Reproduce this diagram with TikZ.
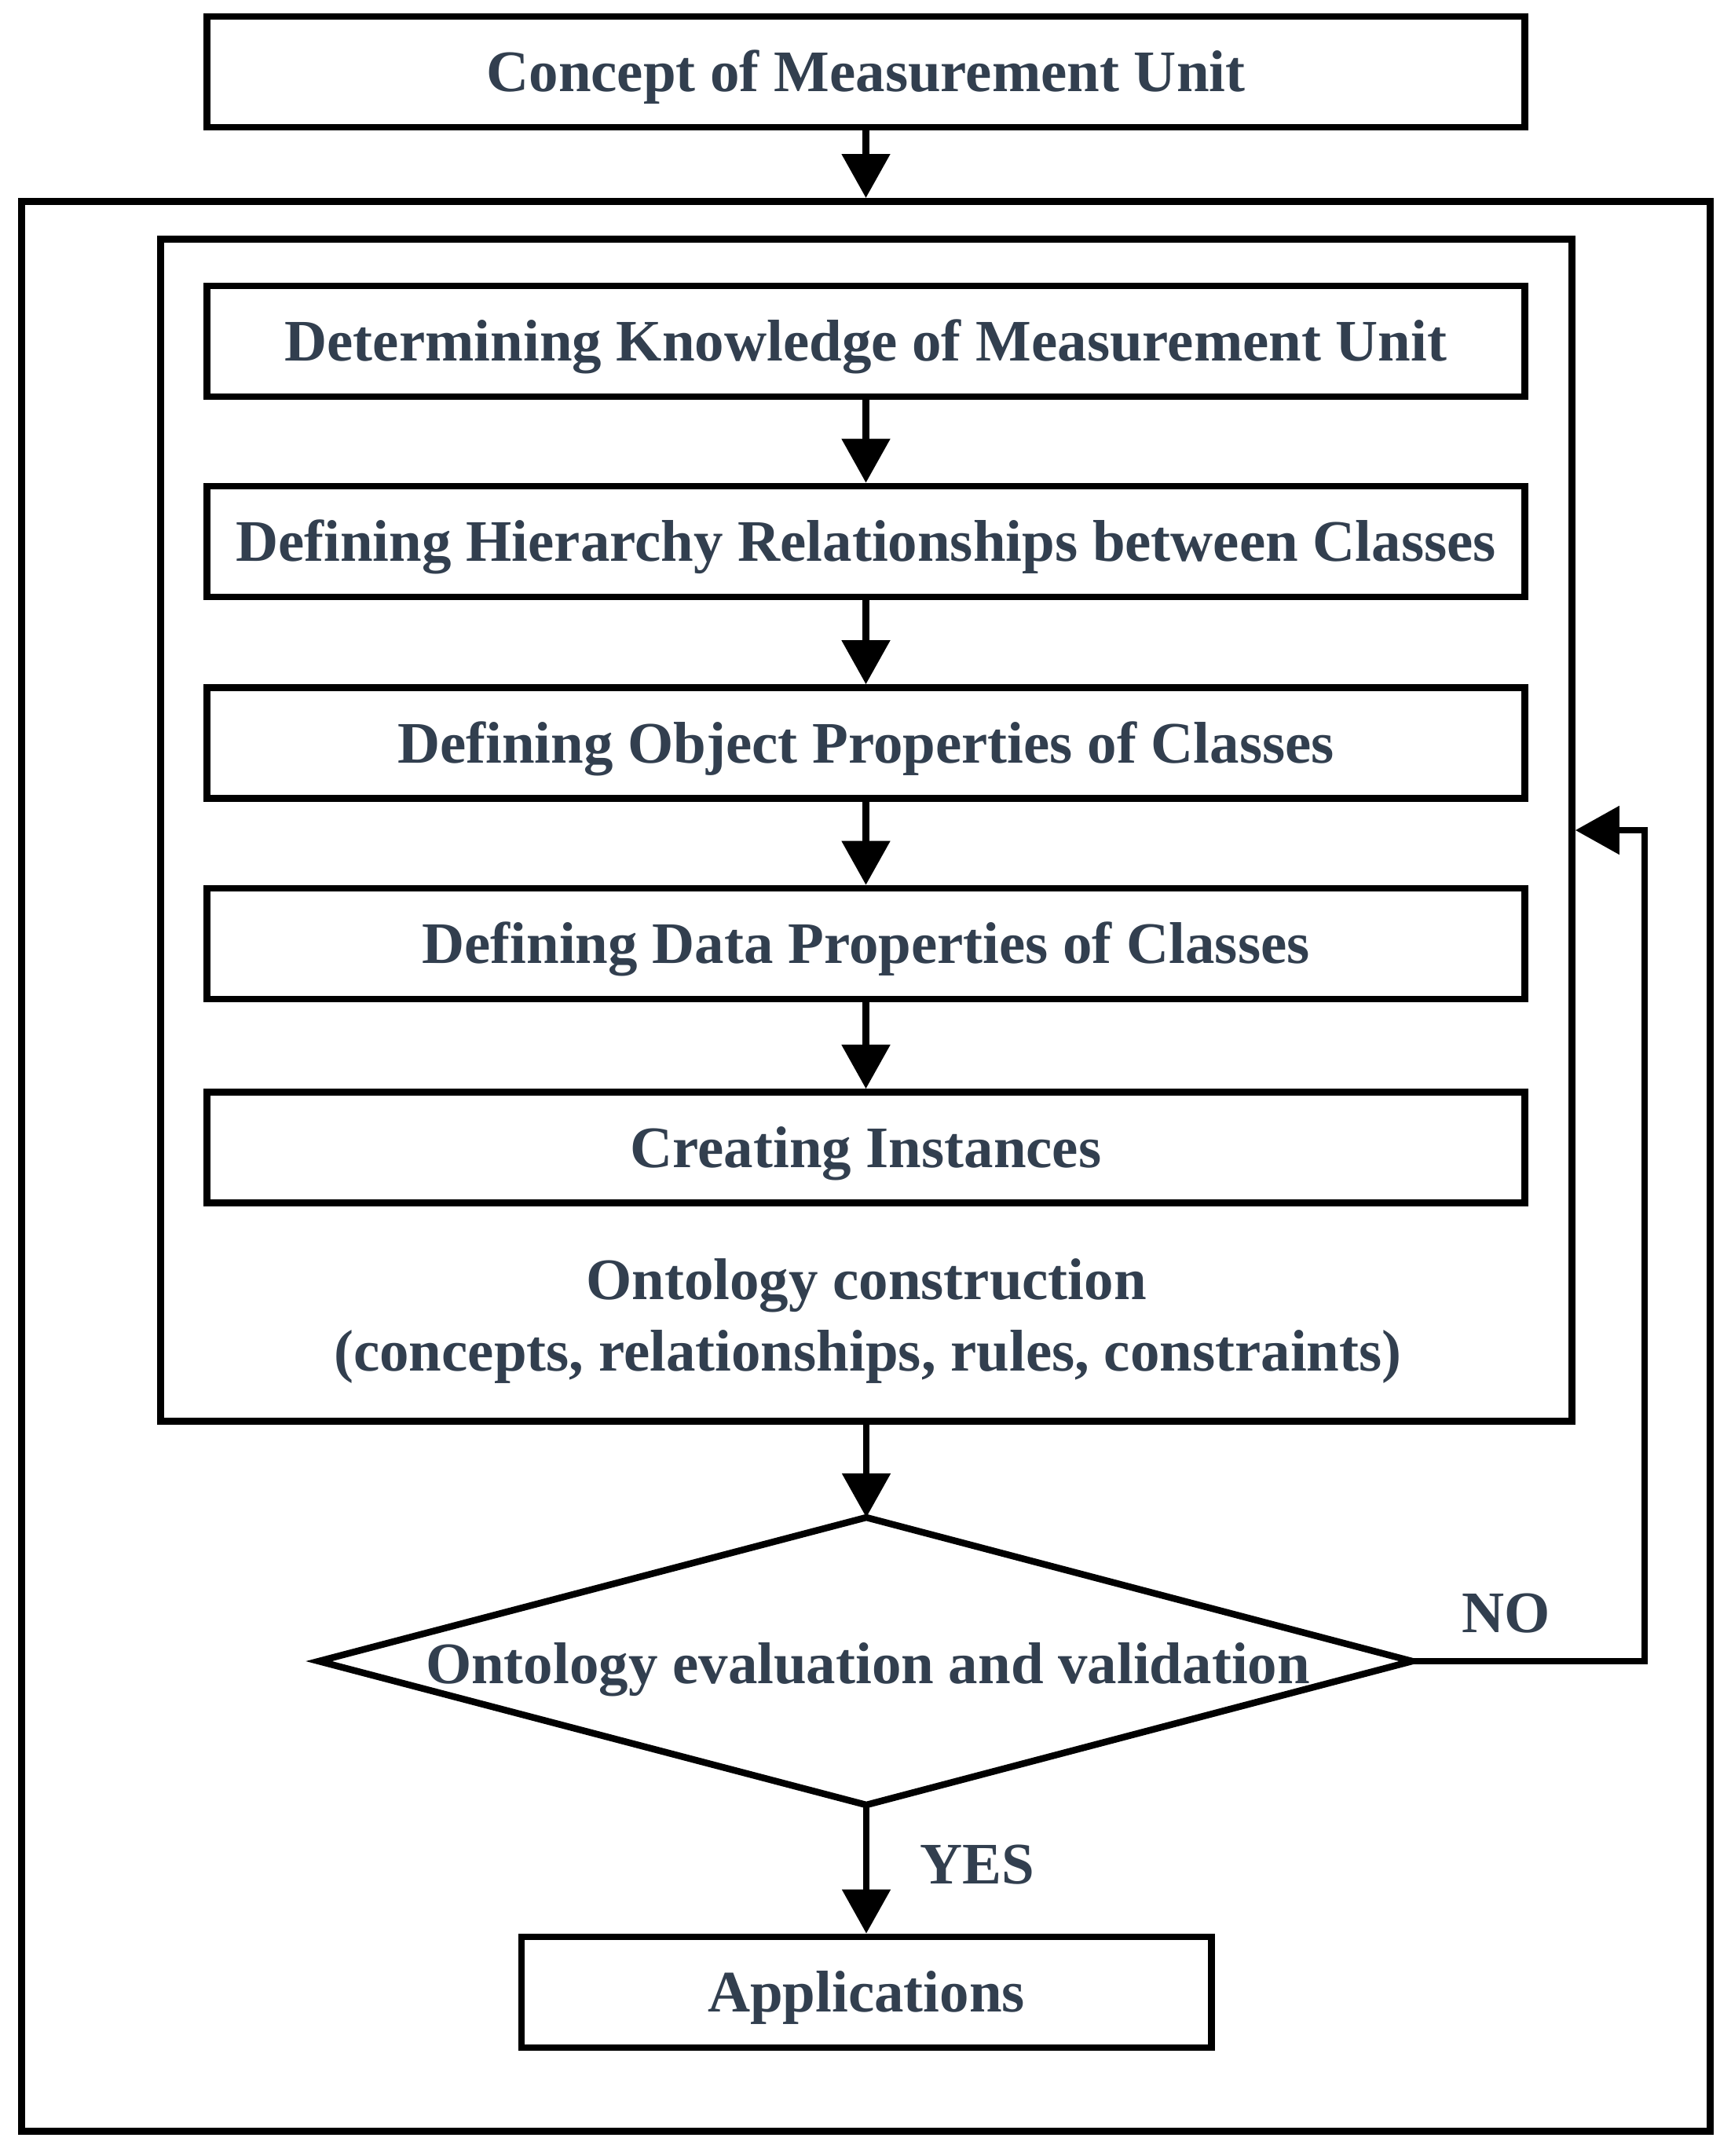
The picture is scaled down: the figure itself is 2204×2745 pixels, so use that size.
\documentclass[tikz,border=0pt]{standalone}
\usepackage{fontspec}
\setmainfont{Liberation Serif}
\usetikzlibrary{arrows.meta}
\definecolor{txt}{RGB}{50,63,79}
\tikzset{
  lw/.style={line width=0.085cm},
  txtfont/.style={font=\fontsize{21.3}{25}\selectfont\bfseries, text=txt},
  boxnode/.style={draw, lw, rectangle, inner sep=0pt, text height=0.5cm, text depth=0pt, txtfont},
  stepbox/.style={boxnode, minimum width=16.77cm, minimum height=1.41cm},
  arr/.style={lw, -{Triangle[length=0.56cm,width=0.6cm]}},
  lbl/.style={txtfont, inner sep=0pt, anchor=base},
}
\begin{document}
\begin{tikzpicture}[x=0.01cm, y=-0.01cm]
\useasboundingbox (0,0) rectangle (2204,2745);
% frames
\node[boxnode, minimum width=21.49cm, minimum height=24.56cm] (outer) at (1102.5,1485) {};
\node[boxnode, minimum width=17.96cm, minimum height=15.04cm] (inner) at (1103,1057) {};
% boxes
\node[stepbox] (top) at (1102.5,91.5) {Concept of Measurement Unit};
\node[stepbox] (s1) at (1102.5,434.5) {Determining Knowledge of Measurement Unit};
\node[stepbox] (s2) at (1102.5,689.5) {Defining Hierarchy Relationships between Classes};
\node[stepbox] (s3) at (1102.5,946) {Defining Object Properties of Classes};
\node[stepbox] (s4) at (1102.5,1201.5) {Defining Data Properties of Classes};
\node[stepbox] (s5) at (1102.5,1461) {Creating Instances};
\node[lbl] (oc1) at (1103,1654) {Ontology construction};
\node[lbl] (oc2) at (1105,1745) {(concepts, relationships, rules, constraints)};
% diamond
\coordinate (dN) at (1103,1932);
\coordinate (dE) at (1798,2115);
\coordinate (dS) at (1103,2298);
\coordinate (dW) at (406,2115);
\draw[lw] (dN) -- (dE) -- (dS) -- (dW) -- cycle;
\node[lbl] (dtext) at (1105,2143) {Ontology evaluation and validation};
% applications
\node[boxnode, minimum width=8.78cm, minimum height=1.41cm] (app) at (1103,2536.5) {Applications};
% arrows
\draw[arr] (top.south) -- (outer.north);
\draw[arr] (s1.south) -- (s2.north);
\draw[arr] (s2.south) -- (s3.north);
\draw[arr] (s3.south) -- (s4.north);
\draw[arr] (s4.south) -- (s5.north);
\draw[arr] (inner.south) -- (dN);
\draw[arr] (dS) -- (app.north);
\coordinate (bend) at (2094,2115);
\draw[arr] (dE) -- (bend) |- (inner.east);
\node[lbl] (no) at (1918,2078) {NO};
\node[lbl] (yes) at (1244,2398) {YES};
\end{tikzpicture}
\end{document}
